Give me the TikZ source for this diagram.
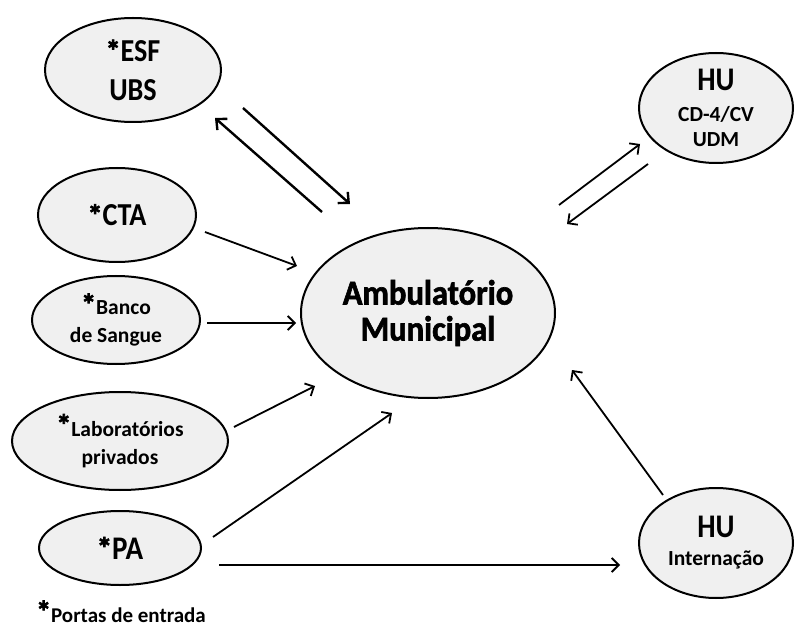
\documentclass[tikz,border=0pt]{standalone}
\usepackage{fontspec}
\setmainfont{Carlito}
\newfontfamily\bigfont{Carlito}[FakeStretch=0.88]
\newfontfamily\heavyfont{Carlito}[FakeStretch=0.93,BoldFeatures={FakeBold=1.8}]
\newfontfamily\starfont{Carlito}[BoldFeatures={FakeBold=2.5}]
\usetikzlibrary{shapes.geometric,arrows.meta}
\definecolor{ellfill}{HTML}{F0F0F0}
\newcommand{\fsz}[2]{\fontsize{#1}{#2}\selectfont}
\newcommand{\bigstar}[1]{{\starfont\bfseries\fsz{#1}{#1}*}}
\tikzset{
  bubble/.style={ellipse, draw=black, line width=2pt, fill=ellfill, inner sep=0pt, align=center},
  conn/.style={line width=1.8pt, -{Straight Barb[length=7pt,width=14pt,line width=1.8pt]}},
  thickconn/.style={line width=2.4pt, -{Straight Barb[length=8pt,width=15pt,line width=2.4pt]}},
}
\begin{document}
\begin{tikzpicture}[x=1pt,y=-1pt]
\useasboundingbox (0,0) rectangle (795,628);
\fill[white] (0,0) rectangle (795,628);

\node[bubble, minimum width=176pt, minimum height=104pt, font=\bigfont\bfseries\fsz{32}{39}] (esf) at (133,70)
  {\bigstar{30}ESF\\UBS};
\node[bubble, minimum width=158pt, minimum height=94pt, font=\bigfont\bfseries\fsz{32}{36}] (cta) at (117,215)
  {\bigstar{30}CTA};
\node[bubble, minimum width=168pt, minimum height=88pt, font=\bfseries\fsz{21.5}{28}] (banco) at (116,320)
  {\bigstar{30}Banco\\de Sangue};
\node[bubble, minimum width=216pt, minimum height=98pt, font=\bfseries\fsz{21.5}{28}] (lab) at (120,441)
  {\raisebox{1pt}{\bigstar{30}}Laboratórios\\privados};
\node[bubble, minimum width=162pt, minimum height=74pt, font=\bigfont\bfseries\fsz{33}{36}] (pa) at (120,548)
  {\bigstar{31}PA};
\node[bubble, minimum width=254pt, minimum height=170pt, font=\heavyfont\bfseries\fsz{35}{36}] (amb) at (428,313)
  {Ambulatório\\Municipal};
\node[bubble, minimum width=154pt, minimum height=110pt, font=\bfseries\fsz{21.5}{25}] (hucd) at (716,108)
  {{\bigfont\fsz{33}{30}HU}\\[6pt]CD-4/CV\\UDM};
\node[bubble, minimum width=154pt, minimum height=110pt, font=\bfseries\fsz{21.5}{28}] (huint) at (716,543)
  {{\bigfont\fsz{33}{30}HU}\\Internação};

\node[font=\bfseries\fsz{21}{24}, anchor=base west, inner sep=0pt] (legend) at (36,622)
  {\bigstar{30}Portas de entrada};

% connector end points
\coordinate (a1s) at (322,212); \coordinate (a1e) at (215,118);
\coordinate (a2s) at (243,108); \coordinate (a2e) at (350,204);
\coordinate (a3s) at (205,232); \coordinate (a3e) at (297,266);
\coordinate (a4s) at (207,323); \coordinate (a4e) at (296,323);
\coordinate (a5s) at (234,427); \coordinate (a5e) at (315,386);
\coordinate (a6s) at (213,537); \coordinate (a6e) at (392,413);
\coordinate (a7s) at (219,565); \coordinate (a7e) at (620,565);
\coordinate (a8s) at (663,495); \coordinate (a8e) at (572,370);
\coordinate (a9s) at (559,205); \coordinate (a9e) at (640,144);
\coordinate (a10s) at (648,164); \coordinate (a10e) at (567,224);

\draw[thickconn] (a1s) -- (a1e);
\draw[thickconn] (a2s) -- (a2e);
\draw[conn] (a3s) -- (a3e);
\draw[conn] (a4s) -- (a4e);
\draw[conn] (a5s) -- (a5e);
\draw[conn] (a6s) -- (a6e);
\draw[conn] (a7s) -- (a7e);
\draw[conn] (a8s) -- (a8e);
\draw[conn] (a9s) -- (a9e);
\draw[conn] (a10s) -- (a10e);
\end{tikzpicture}
\end{document}
